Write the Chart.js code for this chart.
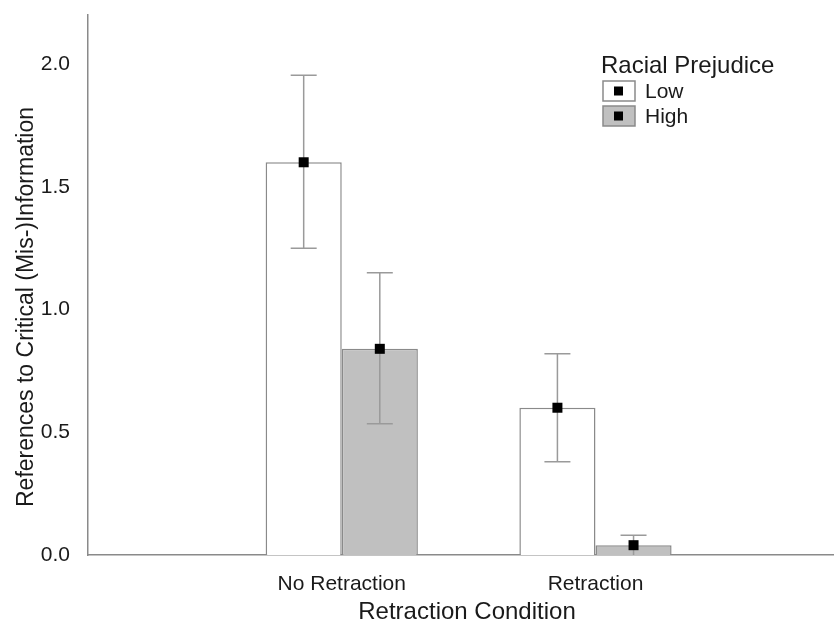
<!DOCTYPE html>
<html>
<head>
<meta charset="utf-8">
<title>Retraction Condition</title>
<script src="https://cdn.jsdelivr.net/npm/chart.js@4.4.0/dist/chart.umd.min.js"></script>
<style>
html, body { margin: 0; padding: 0; background: #fff; }
#wrap { width: 834px; height: 621px; }
</style>
</head>
<body>
<div id="wrap"><canvas id="retractionChart"></canvas></div>
<script>
const conditions = ['No Retraction', 'Retraction'];
const prejudiceLevels = ['Low', 'High'];
const lowMeans = [1.60, 0.60];
const lowLower = [1.25, 0.38];
const lowUpper = [1.955, 0.82];
const highMeans = [0.84, 0.04];
const highLower = [0.535, 0.0];
const highUpper = [1.15, 0.08];
const yTicks = [0, 0.5, 1.0, 1.5, 2.0];

const FONT = '"Liberation Sans", Arial, sans-serif';
const TEXT = '#1a1a1a';
const LINE = '#8a8a8a';

const toPoints = vals => vals.map((v, i) => ({ x: i + 1, y: v }));

// error bars + mean markers
const errorBars = {
    id: 'errorBars',
    afterDatasetsDraw(chart) {
        const ctx = chart.ctx;
        const y = chart.scales.y;
        chart.data.datasets.forEach((ds, di) => {
            const meta = chart.getDatasetMeta(di);
            meta.data.forEach((bar, i) => {
                const top = y.getPixelForValue(ds.errUpper[i]);
                const bot = y.getPixelForValue(ds.errLower[i]);
                const mid = y.getPixelForValue(ds.data[i].y);
                ctx.save();
                ctx.strokeStyle = '#9a9a9a';
                ctx.lineWidth = 1.5;
                ctx.beginPath();
                ctx.moveTo(bar.x, top);
                ctx.lineTo(bar.x, bot);
                ctx.moveTo(bar.x - 13, top);
                ctx.lineTo(bar.x + 13, top);
                if (ds.errLower[i] > 0) {
                    ctx.moveTo(bar.x - 13, bot);
                    ctx.lineTo(bar.x + 13, bot);
                }
                ctx.stroke();
                ctx.fillStyle = '#000';
                ctx.fillRect(bar.x - 5, mid - 5, 10, 10);
                ctx.restore();
            });
        });
    }
};

// axis titles and legend box
const decorations = {
    id: 'decorations',
    afterDraw(chart) {
        const ctx = chart.ctx;
        ctx.save();
        ctx.fillStyle = TEXT;

        ctx.font = '23px ' + FONT;
        ctx.textAlign = 'center';
        ctx.textBaseline = 'alphabetic';
        ctx.save();
        ctx.translate(33, 307);
        ctx.rotate(-Math.PI / 2);
        ctx.fillText('References to Critical (Mis-)Information', 0, 0);
        ctx.restore();

        ctx.font = '24px ' + FONT;
        ctx.fillText('Retraction Condition', 467, 619);

        ctx.textAlign = 'left';
        ctx.fillText('Racial Prejudice', 601, 73);
        ctx.font = '21px ' + FONT;
        chart.data.datasets.forEach((ds, i) => {
            const by = 81 + i * 25;
            ctx.fillStyle = ds.backgroundColor;
            ctx.fillRect(603, by, 32, 20);
            ctx.strokeStyle = LINE;
            ctx.lineWidth = 1.5;
            ctx.strokeRect(603, by, 32, 20);
            ctx.fillStyle = '#000';
            ctx.fillRect(614, by + 5.5, 9, 9);
            ctx.fillStyle = TEXT;
            ctx.fillText(ds.label, 645, by + 17);
        });
        ctx.restore();
    }
};

const config = {
    type: 'bar',
    data: {
        datasets: [{
            label: prejudiceLevels[0],
            data: toPoints(lowMeans),
            errLower: lowLower,
            errUpper: lowUpper,
            backgroundColor: '#ffffff',
            borderColor: LINE,
            borderWidth: 1.5
        }, {
            label: prejudiceLevels[1],
            data: toPoints(highMeans),
            errLower: highLower,
            errUpper: highUpper,
            backgroundColor: '#c0c0c0',
            borderColor: LINE,
            borderWidth: 1.5
        }]
    },
    options: {
        responsive: true,
        maintainAspectRatio: false,
        animation: false,
        barPercentage: 1.0,
        categoryPercentage: 0.6,
        layout: { padding: { top: 15, left: 0, right: 0, bottom: 0 } },
        plugins: {
            legend: { display: false },
            tooltip: { enabled: false }
        },
        scales: {
            x: {
                type: 'linear',
                min: 0,
                max: 2.94,
                offset: false,
                grid: { display: false },
                border: { display: true, color: LINE, width: 1.5 },
                afterBuildTicks: s => { s.ticks = conditions.map((c, i) => ({ value: i + 1 })); },
                afterFit: s => { s.height = 66; s.paddingLeft = 0; s.paddingRight = 0; },
                ticks: {
                    padding: 9,
                    color: TEXT,
                    font: { family: FONT, size: 21 },
                    maxRotation: 0,
                    callback: v => conditions[v - 1]
                }
            },
            y: {
                min: 0,
                max: 2.2,
                grid: { display: false },
                border: { display: true, color: LINE, width: 1.5 },
                afterBuildTicks: s => { s.ticks = yTicks.map(v => ({ value: v })); },
                afterFit: s => { s.width = 88; s.paddingTop = 0; s.paddingBottom = 0; },
                ticks: {
                    padding: 10,
                    color: TEXT,
                    font: { family: FONT, size: 21 },
                    callback: v => v.toFixed(1)
                }
            }
        }
    },
    plugins: [errorBars, decorations]
};

const ctx = document.getElementById('retractionChart').getContext('2d');
const retractionChart = new Chart(ctx, config);
</script>
</body>
</html>
